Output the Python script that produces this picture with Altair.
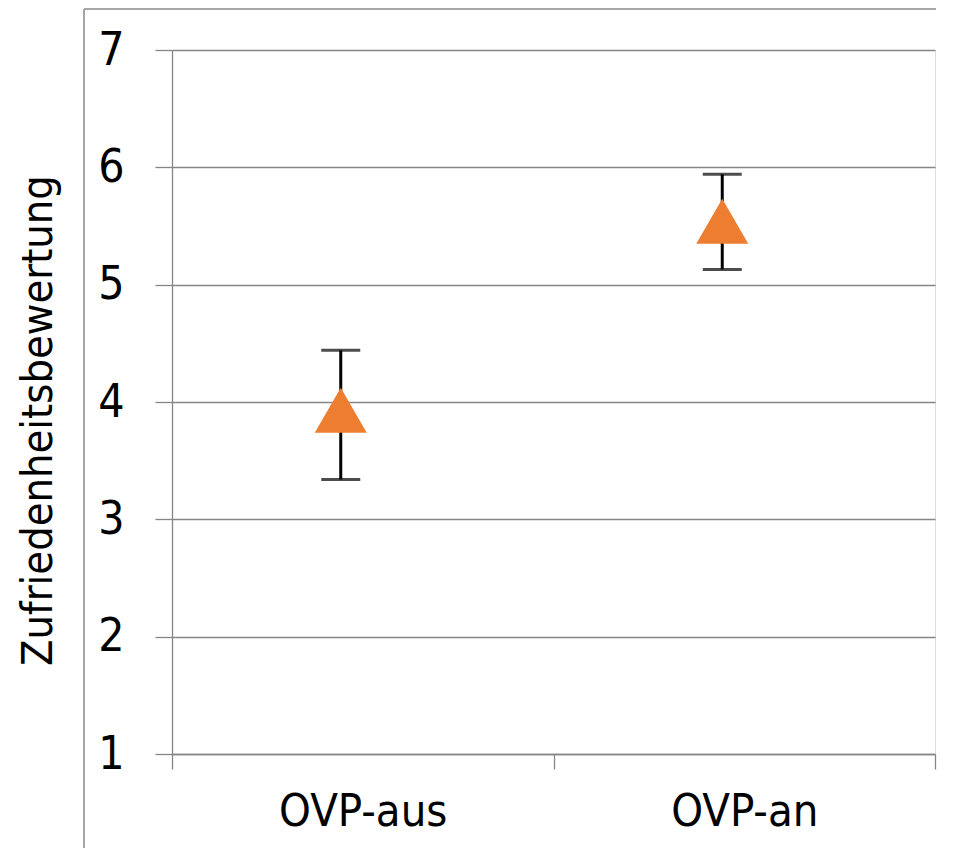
import altair as alt
import pandas as pd

conditions = ["OVP-aus", "OVP-an"]
means = [3.93, 5.54]
err_low = [3.34, 5.13]
err_high = [4.44, 5.94]
y_ticks = [1, 2, 3, 4, 5, 6, 7]

df = pd.DataFrame({"cond": conditions, "mean": means, "low": err_low, "high": err_high})

FONT = "DejaVu Sans Condensed, Roboto, sans-serif"
GRID = "#868686"
FRAME = "#a0a0a0"
ORANGE = "#ED7D31"
OFF = -22

x_enc = alt.X(
    "cond:N",
    sort=conditions,
    scale=alt.Scale(paddingInner=0, paddingOuter=0),
    axis=alt.Axis(
        title=None, tickBand="extent", labelAngle=0, grid=False,
        domainColor=GRID, tickColor=GRID, tickSize=15, domainWidth=1.3, tickWidth=1.3,
        labelFontSize=45, labelPadding=20, labelColor="black", labelFont=FONT,
    ),
)

y_scale = alt.Scale(domain=[1, 7], nice=False, zero=False)
y_axis = alt.Axis(
    values=y_ticks, title="Zufriedenheitsbewertung", grid=True,
    gridColor=GRID, domainColor=GRID, tickColor=GRID, tickSize=17,
    gridWidth=1.3, domainWidth=1.3, tickWidth=1.3,
    labelFontSize=46, labelPadding=31, labelColor="black", labelFont=FONT,
    titleFontSize=43, titleFontWeight="normal", titleColor="black", titleFont=FONT,
    titleAngle=-90, titleAlign="center", titleBaseline="alphabetic",
    titleX=-121, titleY=370,
)

base = alt.Chart(df)

bars = base.mark_rule(color="black", strokeWidth=3, xOffset=OFF).encode(
    x=x_enc, y=alt.Y("low:Q", scale=y_scale, axis=y_axis), y2="high:Q"
)
cap_low = base.mark_tick(color="black", thickness=3, size=39, xOffset=OFF).encode(
    x=x_enc, y=alt.Y("low:Q", scale=y_scale, axis=y_axis)
)
cap_high = base.mark_tick(color="black", thickness=3, size=39, xOffset=OFF).encode(
    x=x_enc, y=alt.Y("high:Q", scale=y_scale, axis=y_axis)
)
points = base.mark_point(
    shape="triangle-up", filled=True, size=2704, color=ORANGE, opacity=1, xOffset=OFF
).encode(x=x_enc, y=alt.Y("mean:Q", scale=y_scale, axis=y_axis))

frame_v = alt.Chart(df).mark_rule(color=FRAME, strokeWidth=1.5).encode(
    x=alt.value(-88), y=alt.value(-41), y2=alt.value(800)
)
frame_h = alt.Chart(df).mark_rule(color=FRAME, strokeWidth=1.5).encode(
    x=alt.value(-88), x2=alt.value(764), y=alt.value(-41)
)

chart = alt.layer(frame_v, frame_h, bars, cap_low, cap_high, points).properties(
    width=763, height=704,
    autosize=alt.AutoSizeParams(type="none"),
    padding={"left": 164, "top": 42, "right": 9, "bottom": 94},
).configure_view(stroke=None).configure(background="white")

chart.save("out.html", embed_options={"renderer": "svg", "actions": False})
